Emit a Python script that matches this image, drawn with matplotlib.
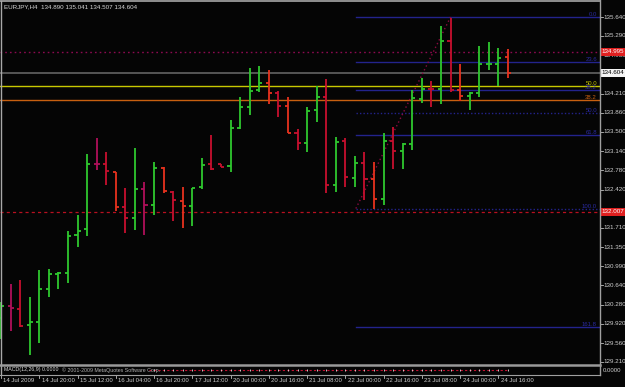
import matplotlib
matplotlib.use('Agg')
import matplotlib.pyplot as plt
from matplotlib.lines import Line2D
import matplotlib.transforms as mtrans

W, H = 625, 387

# EURJPY H4 bars, 14 Jul 04:00 .. 24 Jul 16:00 (2009)
opens = [130.029, 130.253, 130.197, 129.899, 129.955, 130.570, 130.850, 130.868, 131.577, 131.688,
         132.900, 132.900, 132.751, 132.098, 131.893, 132.434, 132.136, 132.825, 132.378, 132.210,
         132.117, 132.471, 132.900, 132.900, 132.863, 133.571, 133.962, 134.279, 134.410, 134.223,
         133.981, 133.478, 133.292, 133.907, 134.149, 132.509, 133.329, 132.639, 132.919, 132.621,
         132.248, 133.329, 133.142, 133.273, 134.112, 134.298, 134.298, 135.193, 134.279, 134.168,
         134.223, 134.764, 134.764, 134.890]
highs = [130.328, 130.663, 130.738, 130.421, 130.924, 130.943, 130.887, 131.651, 131.949, 133.086,
         133.385, 133.124, 132.751, 132.453, 133.198, 132.565, 132.937, 132.844, 132.397, 132.471,
         132.453, 133.012, 133.441, 132.900, 133.720, 134.149, 134.689, 134.727, 134.652, 134.261,
         134.149, 133.552, 133.962, 134.354, 134.485, 133.403, 133.385, 133.049, 133.124, 132.937,
         133.478, 133.590, 133.292, 134.279, 134.503, 134.447, 135.472, 135.620, 134.764, 134.242,
         135.100, 135.174, 135.062, 135.041]
lows = [129.638, 129.787, 129.862, 129.340, 129.564, 130.421, 130.570, 130.682, 131.353, 131.558,
        132.788, 132.509, 132.024, 131.614, 131.670, 131.577, 131.949, 132.359, 131.838, 131.707,
        131.744, 132.434, 132.788, 132.844, 132.751, 133.552, 133.813, 134.242, 134.018, 133.776,
        133.478, 133.161, 133.124, 133.683, 132.359, 132.378, 132.471, 132.471, 132.229, 132.061,
        132.136, 132.807, 132.807, 133.161, 134.037, 133.962, 134.018, 134.242, 134.074, 133.907,
        134.149, 134.652, 134.354, 134.507]
closes = [130.253, 130.216, 129.880, 129.955, 130.570, 130.850, 130.868, 131.558, 131.651, 132.900,
          132.895, 132.770, 132.098, 131.893, 132.434, 132.136, 132.825, 132.397, 132.229, 132.117,
          132.453, 132.881, 132.807, 132.844, 133.571, 133.962, 134.261, 134.410, 134.223, 133.981,
          133.478, 133.292, 133.888, 134.149, 132.509, 133.310, 132.658, 132.919, 132.621, 132.248,
          133.329, 133.142, 133.273, 134.130, 134.298, 134.290, 135.193, 134.279, 134.168, 134.223,
          134.764, 134.764, 134.876, 134.604]
# bar tone as drawn by the terminal (g=green, o=orange red, c=crimson, m=magenta)
bar_tone = "gmcggggggg" "mcocgmgoco" "ggccggggoc" "ocggcgcgco" "gcgggcgcog" "gggo"

time_labels = ["14 Jul 2009", "14 Jul 20:00", "15 Jul 12:00", "16 Jul 04:00", "16 Jul 20:00",
               "17 Jul 12:00", "20 Jul 00:00", "20 Jul 16:00", "21 Jul 08:00", "22 Jul 00:00",
               "22 Jul 16:00", "23 Jul 08:00", "24 Jul 00:00", "24 Jul 16:00"]
price_ticks = [135.640, 135.290, 134.930, 134.210, 133.860, 133.500, 133.140, 132.780, 132.420,
               131.710, 131.350, 130.990, 130.640, 130.280, 129.920, 129.560, 129.210]

fib_high, fib_low = 135.640, 132.070
fib_levels = [0.0, 23.6, 38.2, 50.0, 61.8, 100.0, 161.8]
fib2_levels = [("50.0", 134.354, '#c8c800'), ("38.2", 134.093, '#c86010')]
bid, ask_line, stop_line = 134.604, 134.995, 132.007

tones = {'g': '#2ec82e', 'o': '#e8321e', 'c': '#c8102e', 'm': '#b0105a'}

fig = plt.figure(figsize=(W / 100, H / 100), dpi=100, facecolor='#050505')


def fy(py):
    return 1 - py / H


ax = fig.add_axes([0, fy(363), 600 / W, (363 - 2) / H])
ax.set_facecolor('#050505')
x0, xs = 1.0, 9.565  # pixel of bar 0, pixels per bar
ax.set_xlim(-x0 / xs, (600 - x0) / xs)
ax.set_ylim(129.191, 135.920)
ax.axis('off')

# horizontal lines
ax.axhline(ask_line, color='#8c0a50', lw=1.0, ls=(0, (1.2, 2.2)))
ax.axhline(bid, color='#5c5c5c', lw=1.3)
for _, lvl, col in fib2_levels:
    ax.axhline(lvl, color=col, lw=1.0)
ax.axhline(stop_line, color='#b81020', lw=0.9, ls=(0, (2.5, 2.5)))

# fibonacci retracement
fib_start = 37.1
xr = ax.get_xlim()[1]
tr = mtrans.blended_transform_factory(ax.transAxes, ax.transData)
for lv in fib_levels:
    p = fib_high - (fib_high - fib_low) * lv / 100
    ls = (0, (1, 1.5)) if lv in (50.0, 100.0) else '-'
    ax.plot([fib_start, xr], [p, p], color='#23238c', lw=1.0, ls=ls)
    ax.text(597 / 600, p, f"{lv:.1f}", transform=tr,
            ha='right', va='bottom', color='#2a2aa0', fontsize=4.3, family='Liberation Sans')
for txt, lvl, col in fib2_levels:
    ax.text(597 / 600, lvl, txt, transform=tr,
            ha='right', va='bottom', color=col, fontsize=4.3, family='Liberation Sans')
ax.plot([fib_start, 47], [fib_low, fib_high], color='#8c0a40', lw=1.0, ls=(0, (1, 2)))

# bars
for i in range(len(opens)):
    c = tones[bar_tone[i]]
    ax.vlines(i, lows[i], highs[i], color=c, lw=1.3)
    ax.hlines(opens[i], i - 0.32, i, color=c, lw=1.3)
    ax.hlines(closes[i], i, i + 0.32, color=c, lw=1.3)

# right price scale
for p in price_ticks:
    ax.add_line(Line2D([1.0, 1.005], [p, p], transform=tr, color='#c0c0c0', lw=0.6, clip_on=False))
    ax.text(1.006, p, f"{p:.3f}", transform=tr, ha='left', va='center', color='#d0d0d0',
            fontsize=4.5, family='Liberation Sans', clip_on=False)
for p, bg, fg in [(ask_line, '#e02020', '#ffffff'), (bid, '#f4f4f4', '#000000'), (stop_line, '#e02020', '#ffffff')]:
    ax.text(1.003, p, f"{p:.3f}", transform=tr, ha='left', va='center', color=fg, fontsize=4.5,
            family='Liberation Sans', clip_on=False,
            bbox=dict(boxstyle='square,pad=0.25', fc=bg, ec='none'))

# indicator sub-window
sub = fig.add_axes([0, fy(374), 600 / W, 8 / H])
sub.set_facecolor('#050505')
sub.set_xlim(ax.get_xlim())
sub.set_ylim(-1, 1)
sub.axis('off')
ind_vals = [0.0] * 38
ind_x = list(range(16, 16 + len(ind_vals)))
sub.plot([15.5, 53], [0.0, 0.0], color='#c01030', lw=0.8, ls=(0, (2, 2)))
sub.vlines(ind_x, [v - 0.35 for v in ind_vals], [v + 0.35 for v in ind_vals], color='#e0e0e0', lw=0.6)
fig.text(4 / W, fy(370), "MACD(12,26,9) 0.0000", color='#d8d8d8', fontsize=3.8,
         family='Liberation Sans', va='center')
fig.text(62 / W, fy(370), "© 2001-2009 MetaQuotes Software Corp.", color='#b0b0b0', fontsize=3.8,
         family='Liberation Sans', va='center')
fig.text(603 / W, fy(370), "0.0000", color='#d0d0d0', fontsize=4.3, family='Liberation Sans', va='center')

# frame lines
fl = fig.transFigure
for xs_, ys_, col, lw in [([0, 600 / W], [fy(1), fy(1)], '#a8a8a8', 1.2),
                          ([1.5 / W, 1.5 / W], [fy(1), fy(374)], '#a8a8a8', 1.0),
                          ([600 / W, 600 / W], [fy(0), fy(375)], '#a0a0a0', 1.0),
                          ([0, 600 / W], [fy(364.5), fy(364.5)], '#9a9a9a', 1.8),
                          ([0, 600 / W], [fy(374.5), fy(374.5)], '#a0a0a0', 0.8)]:
    fig.add_artist(Line2D(xs_, ys_, transform=fl, color=col, lw=lw))

# time axis
tt = mtrans.blended_transform_factory(ax.transData, fig.transFigure)
for k, lab in enumerate(time_labels):
    i = 4 * k
    ax.add_line(Line2D([i, i], [fy(374.5), fy(377.5)], transform=tt, color='#c0c0c0', lw=0.6, clip_on=False))
    ax.text(i + 0.25, fy(380.5), lab, transform=tt, ha='left', va='center', color='#d0d0d0',
            fontsize=4.3, family='Liberation Sans', clip_on=False)

fig.text(4 / W, fy(7), "EURJPY,H4  134.890 135.041 134.507 134.604", color='#d8d8d8', fontsize=4.5,
         family='Liberation Sans', va='center')

fig.savefig('out.png', dpi=100, facecolor=fig.get_facecolor())
plt.close(fig)
